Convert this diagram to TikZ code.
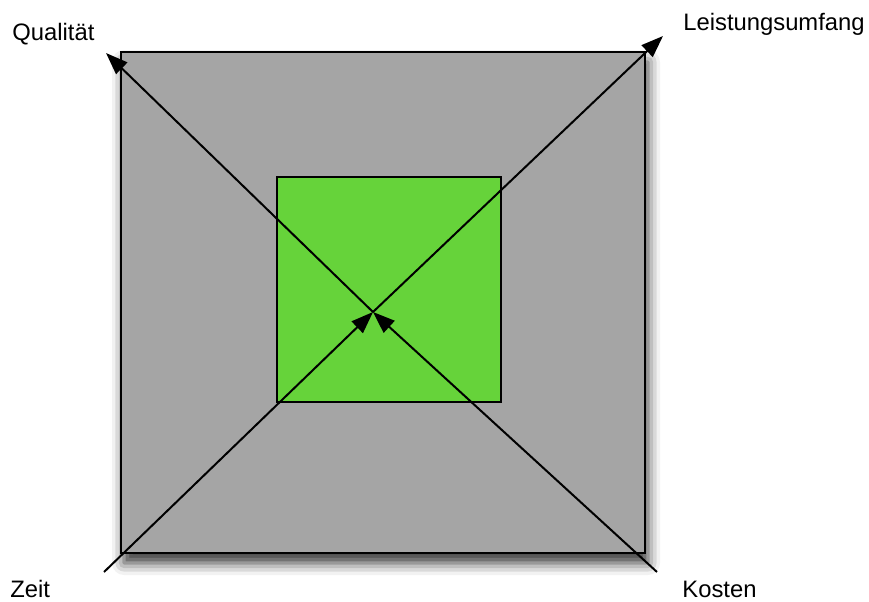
\documentclass[tikz,border=0pt]{standalone}
\usepackage{fontspec}
\setmainfont{Liberation Sans}
\usetikzlibrary{arrows.meta,shadows.blur}
\definecolor{rahmengrau}{RGB}{165,165,165}
\definecolor{kerngruen}{RGB}{102,211,58}
\begin{document}
\begin{tikzpicture}[x=0.5pt, y=-0.5pt,
  every node/.style={font=\fontsize{11.9}{14}\selectfont, inner sep=0pt},
  pfeil/.style={-{Triangle[length=11pt,width=8pt,fill=black]}, draw=black, line width=1pt}]
\useasboundingbox (0,0) rectangle (869,601);
% Rahmen und Kern
\fill[rahmengrau, draw=black, line width=1pt,
  blur shadow={shadow xshift=1.5pt, shadow yshift=-5pt, shadow blur radius=6pt, shadow opacity=80}]
  (121,52) rectangle (645,553);
\filldraw[kerngruen, draw=black, line width=0.8pt] (277,177) rectangle (501,402);
% Punkte
\coordinate (mitte) at (373,312);
\coordinate (zeitfuss) at (104,572);
\coordinate (kostenfuss) at (657,572);
\coordinate (qualspitze) at (106,53);
\coordinate (leistspitze) at (663,36);
% Achsen
\draw[pfeil] (zeitfuss) -- (mitte);
\draw[pfeil] (kostenfuss) -- (mitte);
\draw[pfeil] (mitte) -- (qualspitze);
\draw[pfeil] (mitte) -- (leistspitze);
% Beschriftungen
\node[anchor=base west] (qual) at (12,40) {Qualität};
\node[anchor=base west] (leist) at (683,30) {Leistungsumfang};
\node[anchor=base west] (zeit) at (10,597) {Zeit};
\node[anchor=base west] (kosten) at (682,597) {Kosten};
\end{tikzpicture}
\end{document}
